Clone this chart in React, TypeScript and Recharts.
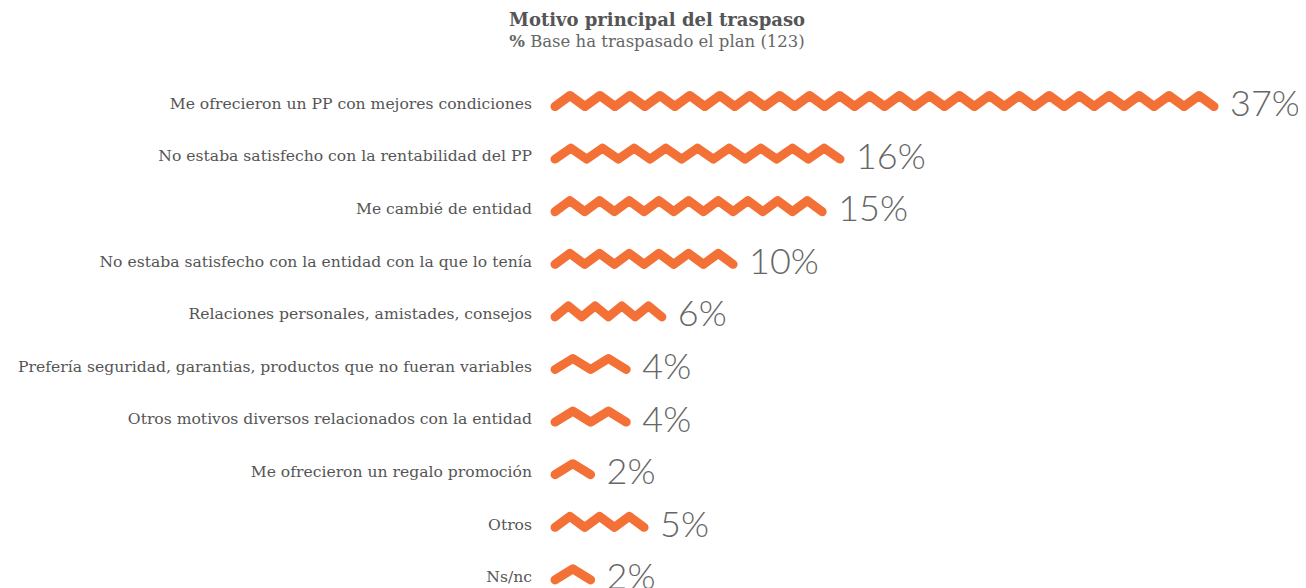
import { Bar, BarChart, LabelList, XAxis, YAxis } from "recharts"

const motivos = [
  "Me ofrecieron un PP con mejores condiciones",
  "No estaba satisfecho con la rentabilidad del PP",
  "Me cambié de entidad",
  "No estaba satisfecho con la entidad con la que lo tenía",
  "Relaciones personales, amistades, consejos",
  "Prefería seguridad, garantias, productos que no fueran variables",
  "Otros motivos diversos relacionados con la entidad",
  "Me ofrecieron un regalo promoción",
  "Otros",
  "Ns/nc",
]

const porcentajes = [37, 16, 15, 10, 6, 4, 4, 2, 5, 2]

const data = motivos.map((motivo, i) => ({ motivo, pct: porcentajes[i] }))

const ORANGE = "#F37036"

// zigzag "bar": whole chevrons fitted into the bar width
function ZigZag(props: any) {
  const { x, y, width, height } = props
  if (!width || width <= 0) return null
  const cy = y + height / 2
  const n = Math.max(1, Math.round(width / 30))
  const p = width / n
  const amp = 5.5
  let d = `M${x},${cy + amp}`
  for (let i = 0; i < n; i++) {
    d += ` L${x + p * (i + 0.5)},${cy - amp} L${x + p * (i + 1)},${cy + amp}`
  }
  return (
    <path
      d={d}
      fill="none"
      stroke={ORANGE}
      strokeWidth={9}
      strokeLinecap="round"
      strokeLinejoin="round"
    />
  )
}

function ValueLabel(props: any) {
  const { x, y, width, height, value } = props
  return (
    <text
      x={x + width + 16}
      y={y + height / 2 + 1}
      textAnchor="start"
      dominantBaseline="central"
      fill="#666"
      style={{ fontFamily: "Lato, sans-serif", fontWeight: 300, fontSize: 36 }}
    >
      {value}%
    </text>
  )
}

export default function App() {
  return (
    <div style={{ position: "relative", width: 1298, height: 580, overflow: "hidden" }}>
      <div
        style={{
          position: "absolute",
          left: 0,
          width: 1298,
          top: 1,
          textAlign: "center",
          fontFamily: "'DejaVu Serif', serif",
          color: "#555",
          lineHeight: "22px",
        }}
      >
        <div style={{ fontWeight: "bold", fontSize: 18 }}>Motivo principal del traspaso</div>
        <div style={{ fontSize: 16.5, color: "#666" }}>
          <b>%</b> Base ha traspasado el plan (123)
        </div>
      </div>
      <BarChart
        width={1298}
        height={620}
        data={data}
        layout="vertical"
        margin={{ top: 67, right: 92, left: 0, bottom: 27 }}
      >
        <XAxis type="number" hide domain={[0, 37]} />
        <YAxis
          type="category"
          dataKey="motivo"
          width={547}
          axisLine={false}
          tickLine={false}
          tickSize={0}
          tickMargin={23}
          interval={0}
          tick={{ fill: "#555", fontSize: 15.6, fontFamily: "'DejaVu Serif', serif", dy: 2 }}
        />
        <Bar dataKey="pct" barSize={12} shape={<ZigZag />} isAnimationActive={false}>
          <LabelList dataKey="pct" content={<ValueLabel />} />
        </Bar>
      </BarChart>
    </div>
  )
}
